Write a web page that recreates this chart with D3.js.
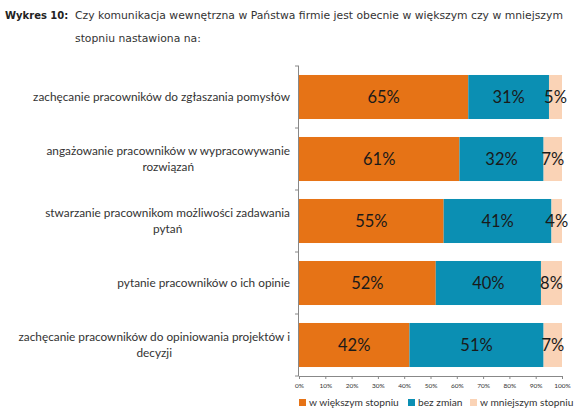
<!DOCTYPE html>
<html><head><meta charset="utf-8">
<script src="https://cdn.jsdelivr.net/npm/d3@7"></script>
<style>body{margin:0;background:#fff}svg{display:block}</style>
</head><body>
<svg id="c" width="580" height="418"></svg>
<script>
const categories = [
  ["zachęcanie pracowników do zgłaszania pomysłów"],
  ["angażowanie pracowników w wypracowywanie", "rozwiązań"],
  ["stwarzanie pracownikom możliwości zadawania", "pytań"],
  ["pytanie pracowników o ich opinie"],
  ["zachęcanie pracowników do opiniowania projektów i", "decyzji"]
];
const seriesNames = ["w większym stopniu", "bez zmian", "w mniejszym stopniu"];
const wiekszym = [65, 61, 55, 52, 42];
const bezZmian = [31, 32, 41, 40, 51];
const mniejszym = [5, 7, 4, 8, 7];
const tickLabels = ["0%","10%","20%","30%","40%","50%","60%","70%","80%","90%","100%"];
const colors = ["#E67316", "#0B8FB3", "#FAD3B6"];

const svg = d3.select("#c");
const x = d3.scaleLinear().domain([0, 1]).range([299, 562]);
const y = d3.scaleBand().domain(d3.range(categories.length)).range([66, 376]).paddingInner(0.29).paddingOuter(0.145);

// title
const tf = "DejaVu Sans, Verdana, sans-serif";
svg.append("text").attr("x", 5).attr("y", 19).attr("font-family", tf).attr("font-size", 10).attr("font-weight", "bold").attr("fill", "#222").text("Wykres 10:");
svg.append("text").attr("x", 75).attr("y", 19).attr("font-family", tf).attr("font-size", 10.8).attr("fill", "#333").text("Czy komunikacja wewnętrzna w Państwa firmie jest obecnie w większym czy w mniejszym");
svg.append("text").attr("x", 75).attr("y", 42).attr("font-family", tf).attr("font-size", 10.8).attr("fill", "#333").text("stopniu nastawiona na:");

const data = categories.map((c, i) => {
  const vals = [wiekszym[i], bezZmian[i], mniejszym[i]];
  const tot = d3.sum(vals);
  let acc = 0;
  return vals.map((v, k) => { const s = acc; acc += v / tot; return {i, k, v, x0: s, x1: acc}; });
});

const g = svg.append("g");
data.forEach(row => {
  row.forEach(d => {
    g.append("rect").attr("x", x(d.x0)).attr("y", y(d.i)).attr("width", x(d.x1) - x(d.x0)).attr("height", y.bandwidth()).attr("fill", colors[d.k]);
  });
  row.forEach(d => {
    g.append("text").attr("x", (x(d.x0) + x(d.x1)) / 2).attr("y", y(d.i) + y.bandwidth() / 2 + 6)
      .attr("text-anchor", "middle").attr("font-family", "Lato, sans-serif").attr("font-size", 16.5).attr("fill", "#1a1a1a").text(d.v + "%");
  });
});

// axes
const axisColor = "#888";
svg.append("line").attr("x1", x(0) - 0.5).attr("x2", x(0) - 0.5).attr("y1", 66).attr("y2", 376).attr("stroke", axisColor);
d3.range(categories.length + 1).forEach(i => {
  const yy = 66 + i * y.step();
  svg.append("line").attr("x1", x(0) - 4).attr("x2", x(0)).attr("y1", yy).attr("y2", yy).attr("stroke", axisColor);
});
const xa = svg.append("g").attr("transform", "translate(0,376)")
  .call(d3.axisBottom(x).tickValues(d3.range(0, 1.0001, 0.1)).tickFormat((d, i) => tickLabels[i]).tickSize(3).tickSizeOuter(0));
xa.select(".domain").attr("stroke", axisColor);
xa.selectAll(".tick line").attr("stroke", axisColor);
xa.selectAll("text").attr("font-family", "Lato, sans-serif").attr("font-size", 6.5).attr("fill", "#333").attr("dy", "0.9em");

// category labels
categories.forEach((lines, i) => {
  const cy = y(i) + y.bandwidth() / 2;
  const t = svg.append("text").attr("font-family", "Lato, sans-serif").attr("font-size", 11.8).attr("fill", "#333").attr("text-anchor", "middle");
  const n = lines.length;
  const tsp = lines.map((l, j) => t.append("tspan").attr("y", cy + 4 + (j - (n - 1) / 2) * 16).text(l));
  const maxW = d3.max(tsp, s => s.node().getComputedTextLength());
  tsp.forEach(s => s.attr("x", 290 - maxW / 2));
});

// legend
const lx = [299, 408, 470];
seriesNames.forEach((s, k) => {
  svg.append("rect").attr("x", lx[k]).attr("y", 399).attr("width", 7).attr("height", 7).attr("fill", colors[k]);
  svg.append("text").attr("x", lx[k] + 10).attr("y", 406).attr("font-family", "Lato, sans-serif").attr("font-size", 10.2).attr("fill", "#333").text(s);
});
</script>
</body></html>
